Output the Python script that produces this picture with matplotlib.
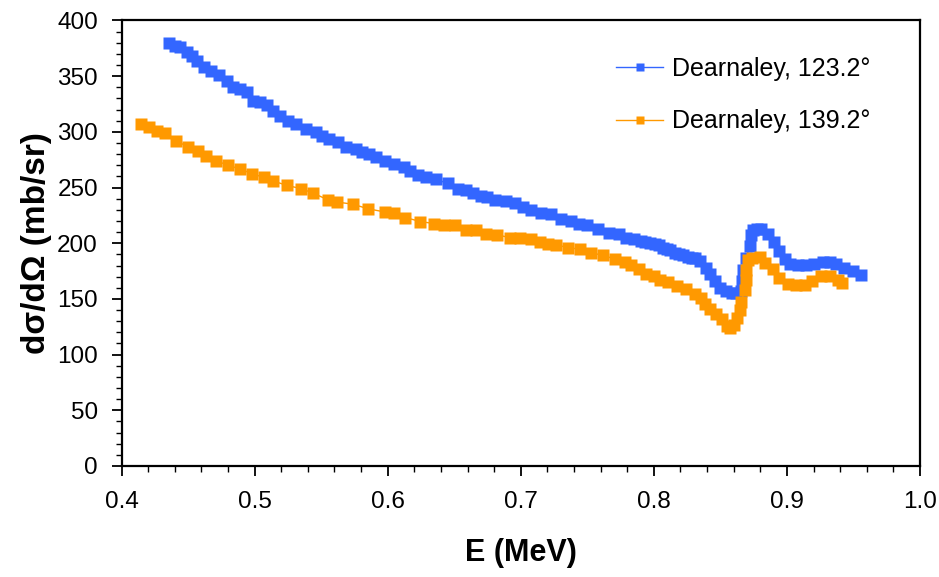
import numpy as np
import matplotlib
matplotlib.use('Agg')
import matplotlib.pyplot as plt
from matplotlib.ticker import MultipleLocator, FormatStrFormatter

# Dearnaley data
e_123 = [0.436, 0.440, 0.444, 0.449, 0.453, 0.457, 0.462, 0.467, 0.473, 0.479,
         0.484, 0.489, 0.494, 0.499, 0.504, 0.509, 0.514, 0.519, 0.525, 0.531,
         0.539, 0.546, 0.551, 0.556, 0.563, 0.569, 0.576, 0.581, 0.586, 0.591,
         0.598, 0.605, 0.612, 0.617, 0.623, 0.629, 0.636, 0.645, 0.653, 0.659,
         0.664, 0.670, 0.675, 0.681, 0.689, 0.696, 0.702, 0.708, 0.715, 0.723,
         0.730, 0.738, 0.744, 0.750, 0.758, 0.766, 0.774, 0.779, 0.785, 0.790,
         0.793, 0.797, 0.801, 0.804, 0.807, 0.810, 0.812, 0.816, 0.819, 0.822,
         0.826, 0.829, 0.831, 0.835, 0.839, 0.842, 0.846, 0.850, 0.854, 0.859,
         0.862, 0.8657, 0.8665, 0.8669, 0.8694, 0.8719, 0.8732, 0.8744, 0.8775,
         0.8807, 0.8857, 0.8899, 0.8944, 0.8982, 0.9020, 0.9082, 0.9145, 0.9207,
         0.9270, 0.9320, 0.9370, 0.9432, 0.9495, 0.9558]
s_123 = [379.5, 377.4, 375.9, 371.4, 368.4, 363.9, 357.9, 354.9, 351.3, 345.9,
         340.0, 338.4, 335.4, 327.9, 326.4, 324.3, 318.9, 314.4, 309.4, 307.0,
         302.5, 299.5, 296.5, 293.5, 290.5, 286.0, 284.5, 281.5, 280.0, 277.0,
         274.0, 271.0, 268.6, 265.0, 261.4, 259.6, 257.5, 253.7, 248.5, 247.6,
         244.7, 242.5, 241.1, 238.7, 237.5, 235.7, 232.1, 229.7, 226.7, 226.1,
         221.6, 220.0, 217.1, 216.2, 212.6, 209.0, 208.1, 205.1, 203.5, 202.1,
         201.5, 200.0, 199.1, 198.0, 196.0, 194.6, 194.0, 191.0, 190.1, 189.0,
         188.0, 187.1, 186.5, 184.1, 178.2, 172.1, 166.1, 160.2, 157.1, 155.0,
         155.0, 156.7, 165.7, 176.2, 186.7, 197.1, 207.6, 212.1, 212.6,
         212.7, 208.3, 200.7, 193.3, 185.8, 181.3, 180.4, 180.7, 181.8,
         183.4, 183.4, 181.3, 178.2, 175.3, 171.4]

e_139 = [0.415, 0.421, 0.427, 0.4328, 0.4411, 0.4498, 0.4573, 0.4636, 0.4712,
         0.4799, 0.4892, 0.4980, 0.5067, 0.5137, 0.524, 0.535, 0.544, 0.555,
         0.562, 0.574, 0.585, 0.598, 0.6051, 0.6132, 0.6245, 0.6345, 0.6420,
         0.6505, 0.6586, 0.6661, 0.6736, 0.6821, 0.6917, 0.6992, 0.7079, 0.7142,
         0.7204, 0.7267, 0.7354, 0.7447, 0.7530, 0.7617, 0.7705, 0.7780, 0.7830,
         0.7892, 0.7942, 0.8000, 0.8048, 0.8105, 0.8173, 0.8243, 0.8306, 0.8351,
         0.8386, 0.8424, 0.8469, 0.8511, 0.8549, 0.8575, 0.8600, 0.8625, 0.8649,
         0.8657, 0.8682, 0.8689, 0.8694, 0.8707, 0.8739, 0.8794, 0.8832, 0.8894,
         0.8944, 0.9007, 0.9070, 0.9132, 0.9190, 0.9257, 0.9320, 0.9383, 0.9416]
s_139 = [307.0, 304.0, 301.0, 298.6, 292.0, 286.6, 283.0, 278.5, 274.0,
         270.1, 266.5, 262.6, 259.1, 256.0, 252.0, 249.0, 245.0, 239.0,
         237.0, 235.0, 231.0, 228.0, 226.7, 223.1, 219.5, 217.7, 216.5,
         216.2, 212.0, 212.0, 208.7, 207.5, 205.1, 205.1, 203.6, 201.5,
         199.7, 198.5, 196.1, 194.6, 191.0, 189.5, 185.6, 183.5, 180.2,
         176.6, 172.8, 170.6, 167.0, 165.2, 161.6, 158.7, 154.2, 151.2,
         145.2, 140.7, 136.2, 131.7, 125.7, 123.5, 127.0, 133.0, 140.0,
         147.0, 158.2, 167.2, 176.2, 185.2, 186.7, 187.3, 182.2, 176.8,
         168.6, 163.3, 162.7, 162.7, 166.3, 170.2, 170.2, 167.2, 164.2]

blue = '#3366FF'
orange = '#FF9900'

plt.rcParams['font.family'] = ['Liberation Sans', 'DejaVu Sans']

fig = plt.figure(figsize=(9.39, 5.77), dpi=100)
ax = fig.add_axes([0.1294, 0.1924, 0.8504, 0.7721])

ax.plot(e_123, s_123, color=blue, lw=1, marker='s', ms=8, mec='none',
        label='Dearnaley, 123.2°')
ax.plot(e_139, s_139, color=orange, lw=1, marker='s', ms=8, mec='none',
        label='Dearnaley, 139.2°')

ax.set_xlim(0.4, 1.0)
ax.set_ylim(0, 400)
ax.xaxis.set_major_locator(MultipleLocator(0.1))
ax.xaxis.set_minor_locator(MultipleLocator(0.02))
ax.yaxis.set_major_locator(MultipleLocator(50))
ax.yaxis.set_minor_locator(MultipleLocator(10))
ax.xaxis.set_major_formatter(FormatStrFormatter('%.1f'))
ax.tick_params(which='major', direction='out', length=7, width=1.3,
               labelsize=17.5)
ax.tick_params(which='minor', direction='out', length=4, width=1)
ax.tick_params(axis='y', which='major', pad=10)
ax.tick_params(axis='x', which='major', pad=11)
for sp in ax.spines.values():
    sp.set_linewidth(1.6)

ax.set_xlabel('E (MeV)', fontsize=22, fontweight='bold', labelpad=18)
ax.set_ylabel('dσ/dΩ (mb/sr)', fontsize=24, fontweight='bold', labelpad=4)

ax.legend(loc='upper left', bbox_to_anchor=(0.619, 0.919), frameon=False,
          borderpad=0, borderaxespad=0,
          fontsize=18, labelspacing=1.15, handlelength=1.9,
          handletextpad=0.35, markerscale=0.75)

fig.savefig('out.png', dpi=100)
